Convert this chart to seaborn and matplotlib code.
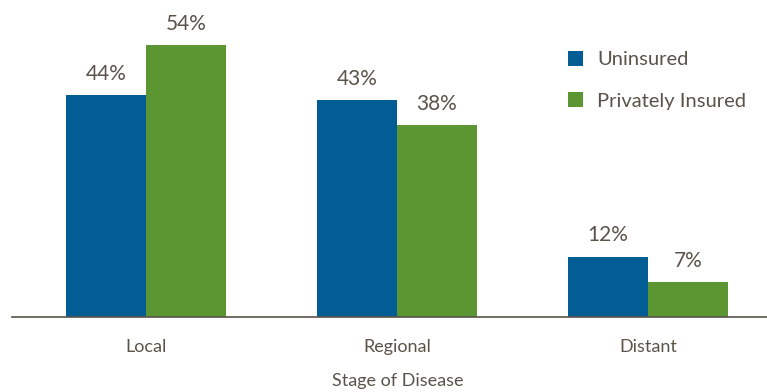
import matplotlib
matplotlib.use("Agg")
import matplotlib.pyplot as plt
import seaborn as sns
import pandas as pd

stages = ["Local", "Regional", "Distant"]
uninsured = [44, 43, 12]
private = [54, 38, 7]
series = ["Uninsured", "Privately Insured"]

df = pd.DataFrame({
    "stage": stages * 2,
    "pct": uninsured + private,
    "group": [series[0]] * 3 + [series[1]] * 3,
})

sns.set_theme(style="white")
plt.rcParams["font.family"] = ["Lato", "DejaVu Sans"]
TEXT = "#5b5349"
palette = {"Uninsured": "#035d95", "Privately Insured": "#5c9632"}

fig = plt.figure(figsize=(7.67, 3.92), dpi=100)
ax = fig.add_axes([12 / 767, 1 - 317 / 392, 755 / 767, 317 / 392])

sns.barplot(data=df, x="stage", y="pct", hue="group", order=stages,
            hue_order=series, palette=palette, width=0.637, saturation=1,
            linewidth=0, ax=ax)

for cont in ax.containers:
    ax.bar_label(cont, labels=[f"{v:.0f}%" for v in cont.datavalues],
                 padding=8, fontsize=15, color=TEXT)

ax.set_ylim(0, 62.9)
ax.set_xlim(-0.534, 2.474)
ax.set_yticks([])
for s in ["top", "right", "left"]:
    ax.spines[s].set_visible(False)
ax.spines["bottom"].set_color(TEXT)
ax.spines["bottom"].set_linewidth(1.2)
ax.tick_params(axis="x", length=0, pad=16, labelsize=13, labelcolor=TEXT)
ax.set_xlabel("")
ax.set_ylabel("")
fig.text(398 / 767, 1 - 381 / 392, "Stage of Disease", ha="center",
         va="center", fontsize=13, color=TEXT)

leg = ax.legend(loc="upper left", bbox_to_anchor=(0.726, 0.865), frameon=False,
                handlelength=0.75, handleheight=0.75,
                handletextpad=0.7, labelspacing=1.2, borderaxespad=0,
                prop={"size": 14.5})
for t in leg.get_texts():
    t.set_color(TEXT)

fig.savefig("out.png", dpi=100)
